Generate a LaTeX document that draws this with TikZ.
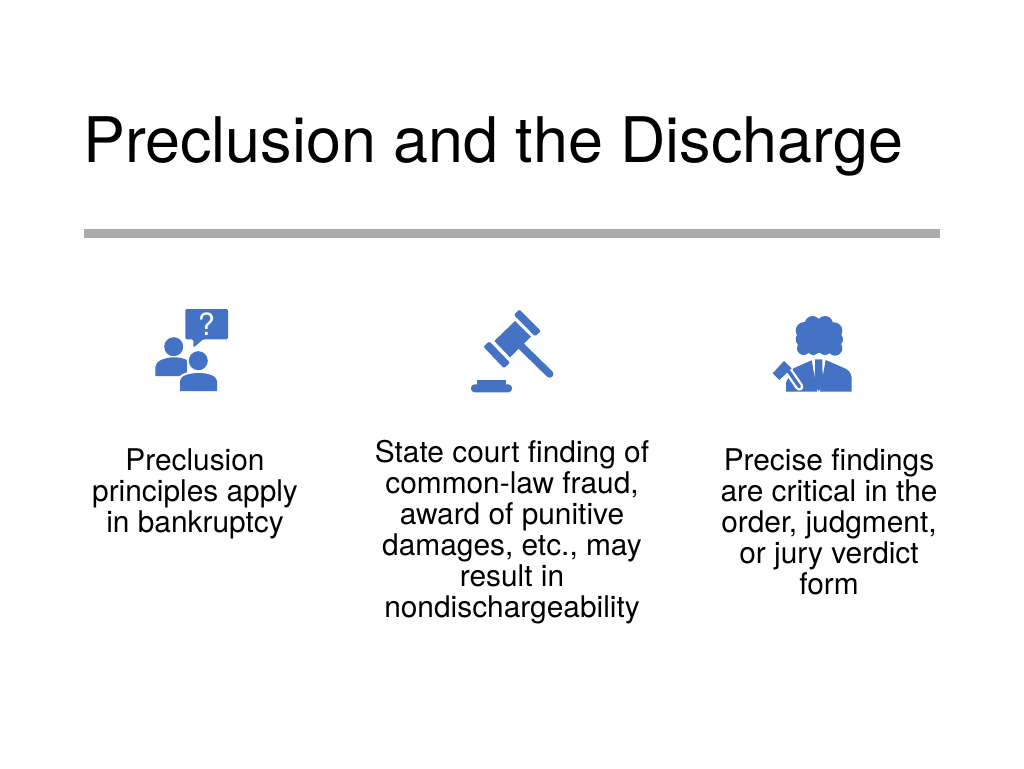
\documentclass[tikz,border=0pt]{standalone}
\usepackage{fontspec}
\setmainfont{TeX Gyre Heros}
\definecolor{iconblue}{HTML}{4472C4}
\definecolor{rulegray}{HTML}{ABABAB}
\tikzset{
  x=0.75pt,y=-0.75pt,
  body/.style={font=\fontsize{22.4pt}{23.25pt}\selectfont,align=center,anchor=center,inner sep=0pt,text=black},
  heading/.style={font=\fontsize{47.15pt}{56pt}\selectfont,anchor=base west,inner sep=0pt,text=black},
}
\begin{document}
\begin{tikzpicture}
\useasboundingbox (0,0) rectangle (1024,768);
\node[heading] (title) at (83,162) {Preclusion and the Discharge};
\fill[rulegray] (84,229) rectangle (940,238);
\node[body] (t1) at (195,494) {Preclusion\\principles apply\\in bankruptcy};
\node[body] (t2) at (512,532) {State court finding of\\common-law fraud,\\award of punitive\\damages, etc., may\\result in\\nondischargeability};
\node[body] (t3) at (829,522) {Precise findings\\are critical in the\\order, judgment,\\or jury verdict\\form};
% icon 1
\begin{scope}
\fill[iconblue,rounded corners=1pt] (185.3,309) -- (228,309) -- (228,339.3) -- (203.3,339.3) -- (193.3,347.7) -- (193.3,339.3) -- (185.3,339.3) -- cycle;
\node[font=\fontsize{23pt}{23pt}\selectfont,text=white,inner sep=0pt] (qm) at (206.5,324.5) {?};
\fill[iconblue] (173.7,346.7) circle (9.5);
\fill[iconblue] (155.3,376) -- (155.3,367) .. controls (155.3,361) and (165,357.3) .. (174,357.3) .. controls (178,357.3) and (183,358) .. (187,360) -- (187,376) -- cycle;
\fill[white] (198.3,360.7) circle (11.5);
\fill[white] (177.5,393) -- (177.5,380) .. controls (178,374) and (190,370.5) .. (198.5,370.5) .. controls (207,370.5) and (219,374) .. (219.5,380) -- (219.5,393) -- cycle;
\fill[iconblue] (198.3,360.7) circle (9.5);
\fill[iconblue] (180,391) -- (180,381) .. controls (180,376) and (189,373) .. (198.5,373) .. controls (208,373) and (217,376) .. (217,381) -- (217,391) -- cycle;
\end{scope}
% icon 2
\begin{scope}[shift={(455,295)},scale=1/3]
\fill[iconblue] (180,78) -- (228,125) -- (165,187) -- (118,138) -- cycle;
\fill[iconblue,rounded corners=1pt] (193,43) -- (258,108) -- (240,124) -- (177,60) -- cycle;
\fill[iconblue,rounded corners=1pt] (103,139) -- (165,203) -- (147,220) -- (85,155) -- cycle;
\draw[iconblue,line width=5.6pt,line cap=round] (195,150) -- (284,237);
\fill[iconblue] (67,255) rectangle (152,270);
\fill[iconblue,rounded corners=2.7pt] (48,268) rectangle (171,292);
\end{scope}
% icon 3
\begin{scope}[shift={(760,305)},scale=1/3]
\fill[iconblue] (158,57) circle (24) (195,57) circle (24) (133,77) circle (26) (222,77) circle (25)
  (129,103) circle (22) (228,103) circle (21) (131,130) circle (20) (225,130) circle (22)
  (160,135) circle (16) (195,135) circle (16);
\fill[iconblue] (135,60) rectangle (225,145);
\fill[iconblue] (155,166) -- (172,260) -- (78,260) -- (78,232) -- (100,190) -- cycle;
\fill[iconblue] (165,163) -- (187,163) -- (187,192) -- (191,240) -- (176,258) -- (162,240) -- (165,192) -- cycle;
\fill[iconblue] (197,165) -- (250,188) .. controls (265,193) and (275,205) .. (275,220) -- (275,260) -- (180,260) -- cycle;
\draw[white,line width=6pt,line cap=round] (84,196) -- (118,245);
\draw[iconblue,line width=2.6pt,line cap=round] (84,196) -- (118,245);
\fill[iconblue] (38,205) -- (72,168) -- (95,190) -- (58,225) -- cycle;
\end{scope}
\end{tikzpicture}
\end{document}
